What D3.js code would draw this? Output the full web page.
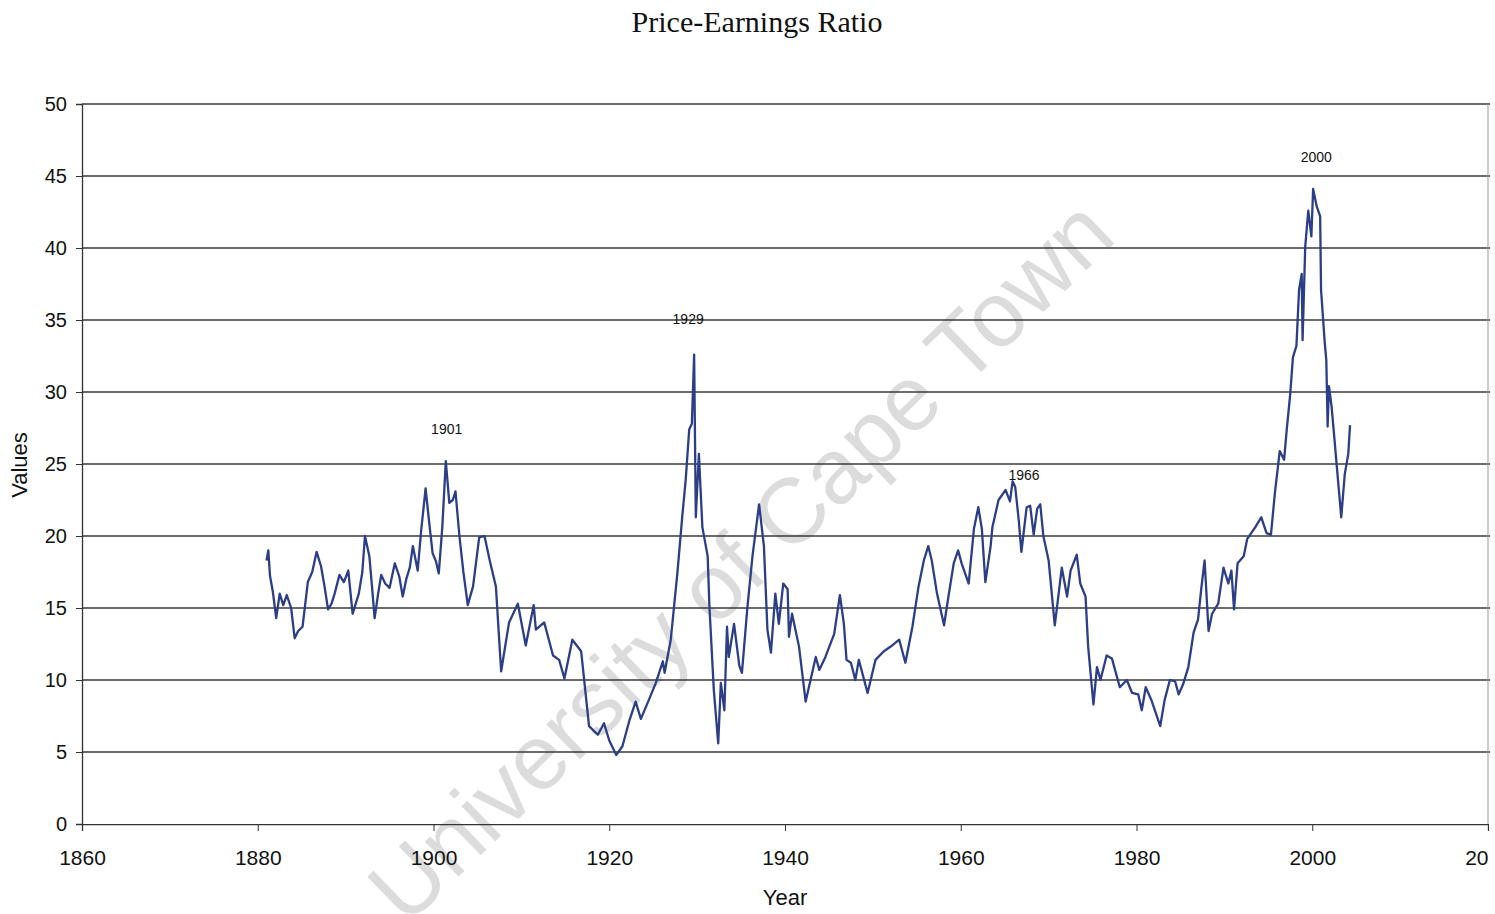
<!DOCTYPE html>
<html>
<head>
<meta charset="utf-8">
<script src="https://cdn.jsdelivr.net/npm/d3@7"></script>
<style>
  body { margin: 0; background: #fff; }
  svg { display: block; }
</style>
</head>
<body>
<div id="chart"></div>
<script>
// P/E ratio readings (decimal year, value)
const years = [
  1881.0, 1881.2, 1881.4, 1881.7, 1882.1, 1882.5, 1882.9, 1883.3, 1883.8, 1884.2,
  1884.6, 1885.1, 1885.7, 1886.2, 1886.7, 1887.2, 1887.6, 1888.0, 1888.4, 1888.75,
  1889.3, 1889.8, 1890.3, 1890.8, 1891.5, 1891.9, 1892.2, 1892.7, 1893.0, 1893.3,
  1893.7, 1894.05, 1894.5, 1895.0, 1895.6, 1896.1, 1896.5, 1896.9, 1897.3, 1897.65,
  1898.2, 1898.6, 1899.1, 1899.5, 1899.9, 1900.3, 1900.6, 1901.0, 1901.4, 1901.8,
  1902.2, 1902.5, 1902.95, 1903.4, 1903.9, 1904.5, 1905.2, 1905.8, 1906.4, 1907.1,
  1907.7, 1908.2, 1908.6, 1909.6, 1910.5, 1911.4, 1911.65, 1912.6, 1913.6, 1914.3,
  1914.9, 1915.8, 1916.8, 1917.7, 1918.7, 1919.4, 1920.0, 1920.8, 1921.5, 1922.3,
  1923.0, 1923.6, 1924.5, 1925.3, 1926.1, 1926.3, 1927.0, 1927.75, 1928.3, 1928.7,
  1929.1, 1929.4, 1929.66, 1929.85, 1930.2, 1930.6, 1931.2, 1931.4, 1931.9, 1932.4,
  1932.7, 1933.1, 1933.4, 1933.6, 1934.2, 1934.8, 1935.1, 1935.7, 1936.3, 1937.05,
  1937.6, 1938.0, 1938.4, 1938.9, 1939.3, 1939.8, 1940.3, 1940.45, 1940.8, 1941.6,
  1942.35, 1943.5, 1943.9, 1944.6, 1945.6, 1946.25, 1946.7, 1947.0, 1947.5, 1948.0,
  1948.4, 1949.4, 1950.3, 1951.25, 1952.2, 1953.0, 1953.7, 1954.5, 1955.2, 1955.8,
  1956.3, 1956.7, 1957.3, 1958.1, 1958.6, 1959.2, 1959.7, 1960.1, 1960.9, 1961.5,
  1962.0, 1962.4, 1962.8, 1963.4, 1963.6, 1964.3, 1965.1, 1965.6, 1965.9, 1966.2,
  1966.6, 1966.9, 1967.5, 1967.9, 1968.3, 1968.7, 1969.05, 1969.4, 1970.0, 1970.7,
  1971.5, 1972.1, 1972.5, 1973.2, 1973.6, 1974.2, 1974.5, 1975.1, 1975.5, 1975.9,
  1976.6, 1977.2, 1978.1, 1978.9, 1979.5, 1980.2, 1980.6, 1981.05, 1981.7, 1982.7,
  1983.2, 1983.8, 1984.4, 1984.8, 1985.3, 1985.9, 1986.5, 1987.0, 1987.4, 1987.75,
  1988.2, 1988.6, 1989.3, 1989.9, 1990.45, 1990.8, 1991.1, 1991.5, 1992.2, 1992.6,
  1993.5, 1994.2, 1994.8, 1995.3, 1995.75, 1996.3, 1996.8, 1997.1, 1997.5, 1997.8,
  1998.2, 1998.5, 1998.8, 1998.9, 1999.2, 1999.55, 1999.9, 2000.1, 2000.5, 2000.9,
  2001.0, 2001.4, 2001.6, 2001.75, 2001.9, 2002.2, 2002.6, 2003.0, 2003.3, 2003.7,
  2004.1, 2004.3
];
const peValues = [
  18.3, 19.0, 17.2, 16.2, 14.3, 16.0, 15.2, 15.9, 15.0, 12.9,
  13.4, 13.7, 16.8, 17.5, 18.9, 17.9, 16.5, 14.9, 15.3, 16.0,
  17.3, 16.8, 17.6, 14.6, 16.0, 17.5, 20.0, 18.6, 16.5, 14.3,
  16.0, 17.3, 16.7, 16.4, 18.1, 17.2, 15.8, 17.0, 17.8, 19.3,
  17.6, 20.4, 23.3, 21.0, 18.8, 18.2, 17.4, 20.6, 25.2, 22.3,
  22.5, 23.1, 20.0, 17.5, 15.2, 16.5, 19.9, 20.0, 18.3, 16.5,
  10.6, 12.5, 14.0, 15.3, 12.4, 15.2, 13.5, 14.0, 11.7, 11.4,
  10.1, 12.8, 12.0, 6.8, 6.2, 7.0, 5.8, 4.8, 5.4, 7.2,
  8.5, 7.3, 8.6, 9.8, 11.3, 10.5, 12.8, 17.4, 21.3, 23.9,
  27.4, 27.8, 32.6, 21.3, 25.7, 20.6, 18.6, 15.1, 9.3, 5.6,
  9.8, 7.9, 13.7, 11.6, 13.9, 11.0, 10.5, 14.9, 18.6, 22.2,
  19.3, 13.5, 11.9, 16.0, 13.9, 16.7, 16.3, 13.0, 14.6, 12.3,
  8.5, 11.6, 10.7, 11.6, 13.2, 15.9, 13.9, 11.4, 11.2, 10.0,
  11.4, 9.1, 11.4, 12.0, 12.4, 12.8, 11.2, 13.7, 16.5, 18.3,
  19.3, 18.3, 16.0, 13.8, 15.8, 18.1, 19.0, 18.1, 16.7, 20.5,
  22.0, 20.5, 16.8, 19.3, 20.6, 22.5, 23.2, 22.4, 23.8, 23.4,
  21.1, 18.9, 22.0, 22.1, 20.1, 21.9, 22.2, 20.0, 18.3, 13.8,
  17.8, 15.8, 17.6, 18.7, 16.7, 15.8, 12.3, 8.3, 10.9, 10.0,
  11.7, 11.5, 9.5, 10.0, 9.1, 9.0, 7.9, 9.5, 8.6, 6.8,
  8.6, 10.0, 9.9, 9.0, 9.7, 10.9, 13.3, 14.2, 16.5, 18.3,
  13.4, 14.6, 15.3, 17.8, 16.7, 17.6, 14.9, 18.1, 18.6, 19.8,
  20.6, 21.3, 20.2, 20.1, 23.0, 25.9, 25.3, 27.4, 29.9, 32.4,
  33.2, 37.1, 38.2, 33.6, 40.1, 42.6, 40.8, 44.1, 42.9, 42.2,
  37.1, 33.6, 32.2, 27.6, 30.4, 29.0, 26.2, 23.4, 21.3, 24.3,
  25.7, 27.7
];
const xTicks = [1860, 1880, 1900, 1920, 1940, 1960, 1980, 2000, 2020];
const yTicks = [0, 5, 10, 15, 20, 25, 30, 35, 40, 45, 50];
const peakLabels = ["1901", "1929", "1966", "2000"];
const peakLabelYears = [1901.5, 1928.98, 1967.2, 2000.45];
const peakLabelValues = [27.1, 34.7, 23.9, 46.0];

const W = 1495, H = 914;
const margin = {top: 104, right: 7, bottom: 90, left: 82};

const svg = d3.select('#chart').append('svg')
    .attr('width', W)
    .attr('height', H);

const x = d3.scaleLinear()
    .domain([1860, 2020])
    .range([margin.left, W - margin.right]);
const y = d3.scaleLinear()
    .domain([0, 50])
    .range([H - margin.bottom, margin.top]);

// title
svg.append('text')
    .attr('x', 757)
    .attr('y', 32)
    .attr('text-anchor', 'middle')
    .style('font-family', '"Liberation Serif", "Times New Roman", serif')
    .style('font-size', '30px')
    .attr('fill', '#111')
    .text('Price-Earnings Ratio');

// watermark
svg.append('text')
    .attr('transform', 'translate(740,560) rotate(-44)')
    .attr('text-anchor', 'middle')
    .attr('dy', '0.35em')
    .style('font-family', '"Liberation Sans", Arial, sans-serif')
    .style('font-size', '92px')
    .attr('fill', '#dcdcdc')
    .text('University of Cape Town');

// horizontal grid
svg.append('g')
    .selectAll('line')
    .data(yTicks.filter(d => d > 0))
    .enter()
    .append('line')
        .attr('x1', x(1860))
        .attr('x2', x(2020) + 2)
        .attr('y1', d => y(d))
        .attr('y2', d => y(d))
        .attr('stroke', '#3a3a3a')
        .attr('stroke-width', 1.3);

// right border
svg.append('line')
    .attr('x1', x(2020)).attr('x2', x(2020))
    .attr('y1', y(50)).attr('y2', y(0))
    .attr('stroke', '#999')
    .attr('stroke-width', 1);

// y axis
const yAxis = svg.append('g')
    .attr('transform', 'translate(' + margin.left + ',0)')
    .call(d3.axisLeft(y).tickValues(yTicks).tickSize(6).tickPadding(9));
yAxis.selectAll('text')
    .style('font-family', '"Liberation Sans", Arial, sans-serif')
    .style('font-size', '20px')
    .attr('fill', '#111');
yAxis.selectAll('line').attr('stroke', '#333');
yAxis.select('.domain').attr('stroke', '#333').attr('stroke-width', 1.3);

// x axis, last label cut at the frame edge like the original
svg.append('clipPath').attr('id', 'xclip')
    .append('rect').attr('x', 0).attr('y', 0).attr('width', x(2020) + 1).attr('height', H);
const xAxis = svg.append('g')
    .attr('clip-path', 'url(#xclip)')
    .attr('transform', 'translate(0,' + (H - margin.bottom) + ')')
    .call(d3.axisBottom(x).tickValues(xTicks).tickFormat(d3.format('d')).tickSize(7).tickPadding(19));
xAxis.selectAll('text')
    .style('font-family', '"Liberation Sans", Arial, sans-serif')
    .style('font-size', '21px')
    .attr('fill', '#111');
xAxis.selectAll('line').attr('stroke', '#333');
xAxis.select('.domain').attr('stroke', '#333').attr('stroke-width', 1.3);

// axis titles
svg.append('text')
    .attr('x', 785)
    .attr('y', 905)
    .attr('text-anchor', 'middle')
    .style('font-family', '"Liberation Sans", Arial, sans-serif')
    .style('font-size', '22px')
    .attr('fill', '#111')
    .text('Year');
svg.append('text')
    .attr('transform', 'translate(27,465) rotate(-90)')
    .attr('text-anchor', 'middle')
    .style('font-family', '"Liberation Sans", Arial, sans-serif')
    .style('font-size', '22px')
    .attr('fill', '#111')
    .text('Values');

// the series
const series = years.map((yr, i) => ({year: yr, value: peValues[i]}));
const line = d3.line()
    .x(d => x(d.year))
    .y(d => y(d.value));
svg.append('path')
    .datum(series)
    .attr('d', line)
    .attr('fill', 'none')
    .attr('stroke', '#2b3e86')
    .attr('stroke-width', 2.3)
    .attr('stroke-linejoin', 'round');

// peak labels
svg.append('g')
    .selectAll('text')
    .data(peakLabels)
    .enter()
    .append('text')
        .attr('x', (d, i) => x(peakLabelYears[i]))
        .attr('y', (d, i) => y(peakLabelValues[i]))
        .attr('text-anchor', 'middle')
        .style('font-family', '"Liberation Sans", Arial, sans-serif')
        .style('font-size', '14px')
        .attr('fill', '#111')
        .text(d => d);
</script>
</body>
</html>
